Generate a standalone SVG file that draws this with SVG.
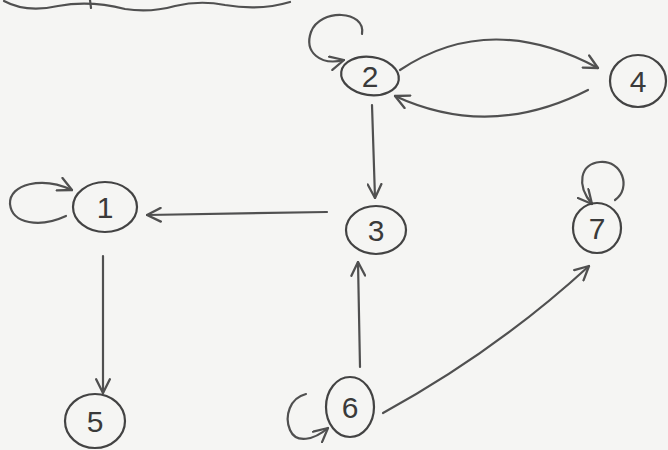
<svg xmlns="http://www.w3.org/2000/svg" width="668" height="450" viewBox="0 0 668 450">
  <style>
    .paper { fill: #f5f5f3; }
    .pen { fill: none; stroke: #505050; stroke-width: 2.2; stroke-linecap: round; stroke-linejoin: round; }
    .node { fill: none; stroke: #434343; stroke-width: 2.2; }
    .num { font-family: "Liberation Sans", "DejaVu Sans", sans-serif; font-size: 30px; fill: #3a3a3a; text-anchor: middle; }
  </style>
  <defs>
    <marker id="arrow" viewBox="0 0 14 14" refX="13" refY="7" markerWidth="16" markerHeight="16" markerUnits="userSpaceOnUse" orient="auto">
      <path d="M1,1 L13,7 L1,13" fill="none" stroke="#505050" stroke-width="2" stroke-linecap="round" stroke-linejoin="round"/>
    </marker>
  </defs>

  <rect class="paper" x="0" y="0" width="668" height="450"/>

  <!-- wavy underline at the top edge -->
  <g id="underline">
    <path class="pen" d="M4,1 Q26,13 58,6 Q90,0 125,9 Q150,13 175,6 Q200,0 225,5 Q260,11 290,2"/>
    <path class="pen" d="M90,0 L91,8"/>
  </g>

  <!-- connectors -->
  <g id="edges">
    <!-- 2 -> 2 -->
    <path class="pen" marker-end="url(#arrow)" d="M362,34 C366,10 320,8 311,32 C304,52 320,66 344,60"/>
    <!-- 2 -> 4 -->
    <path class="pen" marker-end="url(#arrow)" d="M400,70 Q490,10 598,68"/>
    <!-- 4 -> 2 -->
    <path class="pen" marker-end="url(#arrow)" d="M588,90 Q490,140 395,96"/>
    <!-- 2 -> 3 -->
    <path class="pen" marker-end="url(#arrow)" d="M372,105 L375,198"/>
    <!-- 3 -> 1 -->
    <path class="pen" marker-end="url(#arrow)" d="M327,212 L147,215"/>
    <!-- 1 -> 1 -->
    <path class="pen" marker-end="url(#arrow)" d="M66,216 C40,228 12,224 10,204 C9,184 42,176 72,190"/>
    <!-- 1 -> 5 -->
    <path class="pen" marker-end="url(#arrow)" d="M103,256 L103,393"/>
    <!-- 6 -> 3 -->
    <path class="pen" marker-end="url(#arrow)" d="M360,367 L358,262"/>
    <!-- 6 -> 6 -->
    <path class="pen" marker-end="url(#arrow)" d="M306,394 C290,398 284,416 290,430 C296,444 314,440 328,428"/>
    <!-- 6 -> 7 -->
    <path class="pen" marker-end="url(#arrow)" d="M383,413 Q495,352 589,266"/>
    <!-- 7 -> 7 -->
    <path class="pen" marker-end="url(#arrow)" d="M615,200 C632,188 622,160 600,162 C580,164 576,185 592,204"/>
  </g>

  <g id="node1">
    <ellipse class="node" cx="105" cy="207" rx="32" ry="25"/>
    <text class="num" x="105" y="218">1</text>
  </g>
  <g id="node2">
    <ellipse class="node" cx="370" cy="76" rx="29" ry="19" transform="rotate(8 370 76)"/>
    <text class="num" x="370" y="87">2</text>
  </g>
  <g id="node3">
    <ellipse class="node" cx="376" cy="230" rx="30" ry="24"/>
    <text class="num" x="376" y="241">3</text>
  </g>
  <g id="node4">
    <ellipse class="node" cx="638" cy="81" rx="28" ry="26"/>
    <text class="num" x="638" y="92">4</text>
  </g>
  <g id="node5">
    <ellipse class="node" cx="95" cy="421" rx="30" ry="27"/>
    <text class="num" x="95" y="432">5</text>
  </g>
  <g id="node6">
    <ellipse class="node" cx="350" cy="407" rx="24" ry="30"/>
    <text class="num" x="350" y="418">6</text>
  </g>
  <g id="node7">
    <ellipse class="node" cx="597" cy="228" rx="24" ry="25"/>
    <text class="num" x="597" y="239">7</text>
  </g>
</svg>
